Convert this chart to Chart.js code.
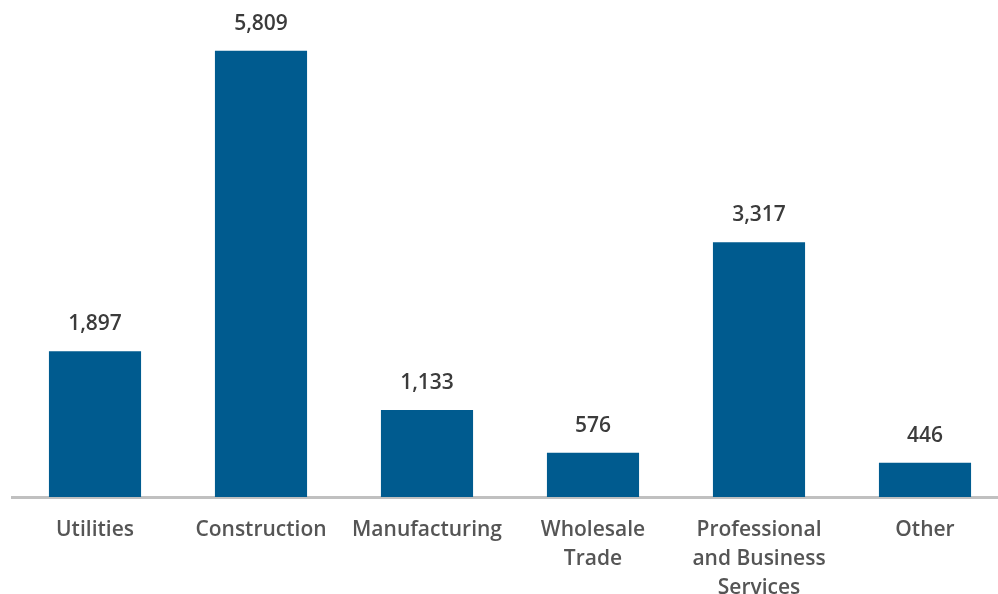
<!DOCTYPE html>
<html>
<head>
<meta charset="utf-8">
<script src="https://cdn.jsdelivr.net/npm/chart.js@4"></script>
<style>
  html, body { margin: 0; padding: 0; background: #fff; overflow: hidden; }
  #wrap { width: 1010px; height: 594px; }
</style>
</head>
<body>
<div id="wrap"><canvas id="chart" width="1010" height="594"></canvas></div>
<script>
const categories = [
    'Utilities',
    'Construction',
    'Manufacturing',
    ['Wholesale', 'Trade'],
    ['Professional', 'and Business', 'Services'],
    'Other'
];
const values = [1897, 5809, 1133, 576, 3317, 446];
const yMax = 6000;

// labels above bars
const valueLabels = {
    id: 'valueLabels',
    afterDatasetsDraw(chart) {
        const ctx = chart.ctx;
        const meta = chart.getDatasetMeta(0);
        ctx.save();
        ctx.font = '600 21px "Open Sans"';
        ctx.fillStyle = '#3b3b3b';
        ctx.textAlign = 'center';
        ctx.textBaseline = 'middle';
        meta.data.forEach((bar, i) => {
            ctx.fillText(values[i].toLocaleString('en-US'), bar.x, bar.y - 27);
        });
        ctx.restore();
    }
};

new Chart(document.getElementById('chart'), {
    type: 'bar',
    data: {
        labels: categories,
        datasets: [{
            data: values,
            backgroundColor: '#005b8f',
            barPercentage: 0.555,
            categoryPercentage: 1.0
        }]
    },
    options: {
        responsive: false,
        animation: false,
        layout: { padding: { left: 12, right: 2, top: 36 } },
        plugins: {
            legend: { display: false },
            tooltip: { enabled: false }
        },
        scales: {
            x: {
                grid: { display: false },
                border: { display: true, color: '#c0c0c0', width: 3 },
                ticks: {
                    color: '#555555',
                    padding: 11,
                    maxRotation: 0,
                    autoSkip: false,
                    font: { family: '"Open Sans"', size: 21, weight: '600', lineHeight: 1.38 }
                },
                afterFit(scale) { scale.height = 97; }
            },
            y: {
                display: false,
                min: 0,
                max: yMax
            }
        }
    },
    plugins: [valueLabels]
});
</script>
</body>
</html>
